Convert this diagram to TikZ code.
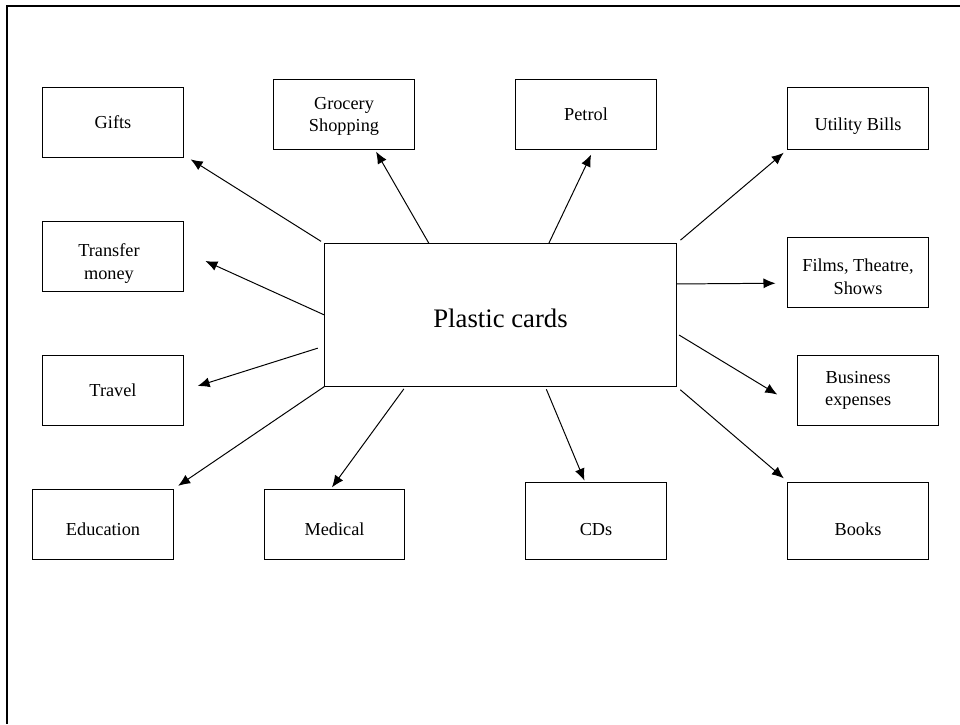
\documentclass[tikz,border=0pt]{standalone}
\usepackage{fontspec}
\setmainfont{Liberation Serif}
\usetikzlibrary{arrows.meta}

\begin{document}
\begin{tikzpicture}[x=0.025cm, y=-0.025cm, thick]
    \useasboundingbox (0, 0) rectangle (960, 724);

    % Define styles for boxes and arrows
    \tikzstyle{card} = [rectangle, minimum width=3.5cm, minimum height=1.75cm, text centered, align=center, draw=black, line width=0.7pt, inner sep=0pt, font=\fontsize{13}{16}\selectfont]
    \tikzstyle{hub} = [card, minimum width=8.775cm, minimum height=3.55cm, font=\fontsize{19}{23}\selectfont]
    \tikzstyle{arrow} = [line width=0.7pt, -{Latex[length=3mm, width=2.5mm]}]
    \tikzstyle{frame} = [line width=1.4pt]

    % page frame
    \draw [frame] (960, 6) -- (7, 6) -- (7, 724);

    % boxes
    \node (plastic) [hub, text height=18pt, text depth=0pt] at (500.5, 315) {Plastic cards};
    \node (gifts) [card] at (113, 122) {Gifts};
    \node (grocery) [card] at (344, 114) {\rule{0pt}{12pt}Grocery\\Shopping};
    \node (petrol) [card] at (586, 114) {Petrol};
    \node (utility) [card, minimum height=1.55cm, text height=20.3pt, text depth=2.8pt] at (858, 118) {Utility Bills};
    \node (transfer) [card] at (113, 256) {\rule{0pt}{20pt}Transfer\hspace*{5.7pt}\\money\hspace*{5.7pt}};
    \node (films) [card] at (858, 272) {\rule{0pt}{16pt}Films, Theatre,\\Shows};
    \node (travel) [card] at (113, 390.5) {Travel};
    \node (business) [card] at (868, 390.5) {Business\hspace*{14pt}\\expenses\hspace*{14pt}};
    \node (education) [card, text height=16.1pt, text depth=0pt] at (103, 524.5) {Education};
    \node (medical) [card, text height=16.1pt, text depth=0pt] at (334.5, 524.5) {Medical};
    \node (cds) [card, minimum height=1.925cm, text height=21.4pt, text depth=0pt] at (596, 520.5) {CDs};
    \node (books) [card, minimum height=1.925cm, text height=21.7pt, text depth=0pt] at (858, 520.5) {Books};

    % Arrows
    \draw [arrow, shorten <=1mm, shorten >=2.1mm] (plastic.north west) -- (gifts.335.8);
    \draw [arrow, shorten >=0.6mm] (plastic.135.6) -- (grocery.311.4);
    \draw [arrow, shorten >=1.4mm] (plastic.56.2) -- (petrol.282);
    \draw [arrow, shorten <=1.3mm, shorten >=1.25mm] (plastic.north east) -- (utility.south west);
    \draw [arrow, shorten >=6mm] (plastic.west) -- (transfer.4.1);
    \draw [arrow, shorten >=3mm] (plastic.10) -- (films.189.7);
    \draw [arrow, shorten <=1.75mm, shorten >=3.7mm] (plastic.190.6) -- (travel.east);
    \draw [arrow, shorten <=0.75mm, shorten >=5.9mm] (plastic.354.1) -- (business.193.6);
    \draw [arrow, shorten >=1.4mm] (plastic.south west) -- (education.north east);
    \draw [arrow, shorten <=0.75mm, shorten >=0.5mm] (plastic.217.2) -- (medical.96.5);
    \draw [arrow, shorten <=0.75mm, shorten >=0.25mm] (plastic.302.7) -- (cds.106.8);
    \draw [arrow, shorten <=1.25mm, shorten >=1.2mm] (plastic.south east) -- (books.north west);
\end{tikzpicture}
\end{document}
